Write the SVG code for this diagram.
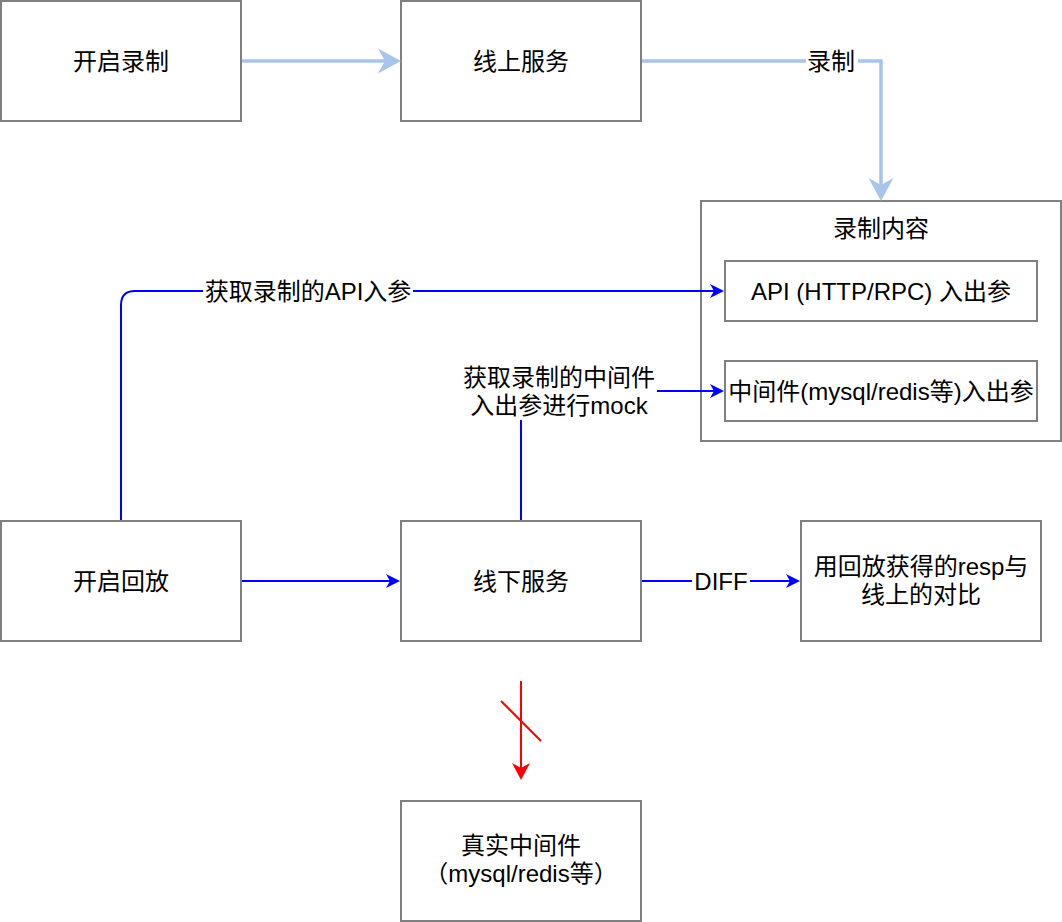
<svg xmlns="http://www.w3.org/2000/svg" width="1062" height="922" viewBox="0 0 1062 922">
<style>
.box{fill:#fff;stroke:#808080;stroke-width:2}
.t{font-family:"Liberation Sans","Noto Sans CJK SC",sans-serif;font-size:24px;fill:#000;text-anchor:middle}
.lb{fill:#fff;stroke:none}
.lightc{fill:none;stroke:#A9C4EB;stroke-width:3.5}
.bluec{fill:none;stroke:#0000FF;stroke-width:2}
.redc{fill:none;stroke:#FF0000;stroke-width:2}
</style>
<defs>
<marker id="aLight" markerUnits="userSpaceOnUse" viewBox="-8 -14 26 28" markerWidth="26" markerHeight="28" refX="0" refY="0" orient="auto">
<path d="M16,0 L-7,-12.5 L0,0 L-7,12.5 Z" fill="#A9C4EB"/>
</marker>
<marker id="aBlue" markerUnits="userSpaceOnUse" viewBox="-5 -8 16 16" markerWidth="16" markerHeight="16" refX="0" refY="0" orient="auto">
<path d="M10,0 L-4,-7 L0,0 L-4,7 Z" fill="#0000FF"/>
</marker>
<marker id="aRed" markerUnits="userSpaceOnUse" viewBox="-6 -10 19 20" markerWidth="19" markerHeight="20" refX="0" refY="0" orient="auto">
<path d="M12,0 L-5,-9 L0,0 L-5,9 Z" fill="#FF0000"/>
</marker>
</defs>
<rect width="1062" height="922" fill="#fff"/>

<g id="node-start-record">
<rect class="box" x="1" y="1" width="240" height="120"/>
<text class="t" x="121" y="69.5">开启录制</text>
</g>
<g id="node-online-service">
<rect class="box" x="401" y="1" width="240" height="120"/>
<text class="t" x="521" y="69.5">线上服务</text>
</g>
<g id="node-record-content">
<rect class="box" x="701" y="201" width="360" height="240"/>
<text class="t" x="881" y="237">录制内容</text>
</g>
<g id="node-api-params">
<rect class="box" x="725" y="261" width="312" height="60"/>
<text class="t" x="881" y="299.5">API (HTTP/RPC) 入出参</text>
</g>
<g id="node-middleware-params">
<rect class="box" x="725" y="361" width="312" height="60"/>
<text class="t" x="881" y="399.5">中间件(mysql/redis等)入出参</text>
</g>
<g id="node-start-replay">
<rect class="box" x="1" y="521" width="240" height="120"/>
<text class="t" x="121" y="589.5">开启回放</text>
</g>
<g id="node-offline-service">
<rect class="box" x="401" y="521" width="240" height="120"/>
<text class="t" x="521" y="589.5">线下服务</text>
</g>
<g id="node-diff">
<rect class="box" x="801" y="521" width="240" height="120"/>
<text class="t" x="921" y="575">用回放获得的resp与</text>
<text class="t" x="921" y="603">线上的对比</text>
</g>
<g id="node-real-middleware">
<rect class="box" x="401" y="801" width="240" height="120"/>
<text class="t" x="521" y="853.5">真实中间件</text>
<text class="t" x="521" y="881.5">（mysql/redis等）</text>
</g>

<g id="connectors">
<path class="lightc" d="M242,61 H385" marker-end="url(#aLight)"/>
<path class="lightc" d="M642,61 H881 V185" marker-end="url(#aLight)"/>
<rect class="lb" x="806" y="47" width="52" height="28"/>
<text class="t" x="831" y="69.5">录制</text>

<path class="bluec" d="M121,520 V305 Q121,291 135,291 H714" marker-end="url(#aBlue)"/>
<rect class="lb" x="203" y="277" width="210" height="28"/>
<text class="t" x="308" y="299.5">获取录制的API入参</text>

<path class="bluec" d="M521,520 V391 H714" marker-end="url(#aBlue)"/>
<rect class="lb" x="461" y="362" width="196" height="58"/>
<text class="t" x="559" y="385.5">获取录制的中间件</text>
<text class="t" x="559" y="413.5">入出参进行mock</text>

<path class="bluec" d="M242,581 H390" marker-end="url(#aBlue)"/>
<path class="bluec" d="M642,581 H790" marker-end="url(#aBlue)"/>
<rect class="lb" x="692" y="567" width="58" height="28"/>
<text class="t" x="721" y="589.5">DIFF</text>

<path class="redc" d="M521,681 V768" marker-end="url(#aRed)"/>
<path class="redc" d="M501,701 L541,741"/>
</g>
</svg>
